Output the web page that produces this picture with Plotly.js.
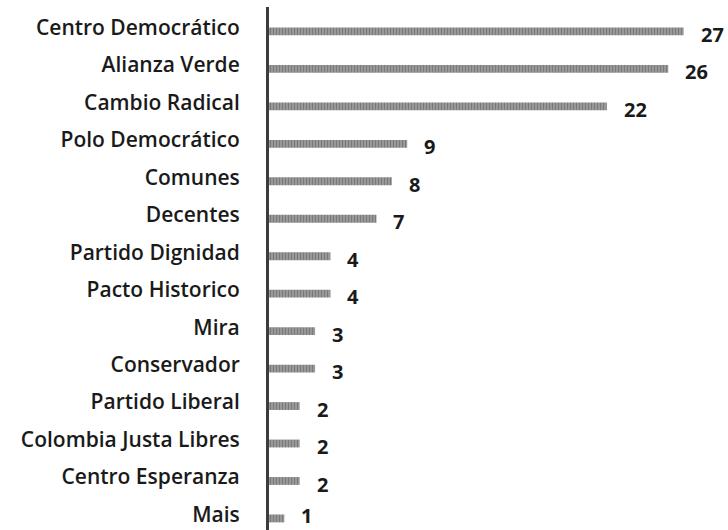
<!DOCTYPE html>
<html>
<head>
<meta charset="utf-8">
<script src="https://cdn.plot.ly/plotly-3.0.1.min.js"></script>
<style>html,body{margin:0;padding:0;background:#fff;}#chart{width:728px;height:530px;}</style>
</head>
<body>
<div id="chart"></div>
<script>
var categories = ["Centro Democrático","Alianza Verde","Cambio Radical","Polo Democrático","Comunes","Decentes","Partido Dignidad","Pacto Historico","Mira","Conservador","Partido Liberal","Colombia Justa Libres","Centro Esperanza","Mais"];
var values = [27,26,22,9,8,7,4,4,3,3,2,2,2,1];

var font = {family: "Open Sans, sans-serif", size: 21, color: "#1a1a1a", weight: 600};

var trace = {
  type: "bar",
  orientation: "h",
  x: values,
  y: categories,
  width: 0.21,
  offset: 0.0,
  marker: {
    color: "#8e8e8e",
    line: {width: 0},
    pattern: {shape: "|", fgcolor: "#7a7a7a", bgcolor: "#989898", size: 3, solidity: 0.35}
  },
  hoverinfo: "none"
};

var annotations = values.map(function(v, i){
  return {x: v, y: categories[i], xref: "x", yref: "y", text: String(v), showarrow: false,
          xanchor: "left", yanchor: "middle", xshift: 15,
          yshift: (i === values.length - 1) ? -1 : -7,
          font: {family: "Open Sans, sans-serif", size: 20, color: "#1a1a1a", weight: 700}};
});

var layout = {
  width: 728, height: 530,
  margin: {l: 269, r: 6, t: 7, b: 0, pad: 0},
  paper_bgcolor: "#fff", plot_bgcolor: "#fff",
  showlegend: false,
  xaxis: {range: [0, 29.5], visible: false, fixedrange: true},
  yaxis: {
    type: "category",
    range: [13.414, -0.547],
    showline: true, linewidth: 3, linecolor: "#3c3c3c",
    showgrid: false, zeroline: false, ticks: "",
    ticklabelstandoff: 22,
    tickfont: font
  },
  annotations: annotations
};

Plotly.newPlot("chart", [trace], layout, {displayModeBar: false, staticPlot: true});
</script>
</body>
</html>
